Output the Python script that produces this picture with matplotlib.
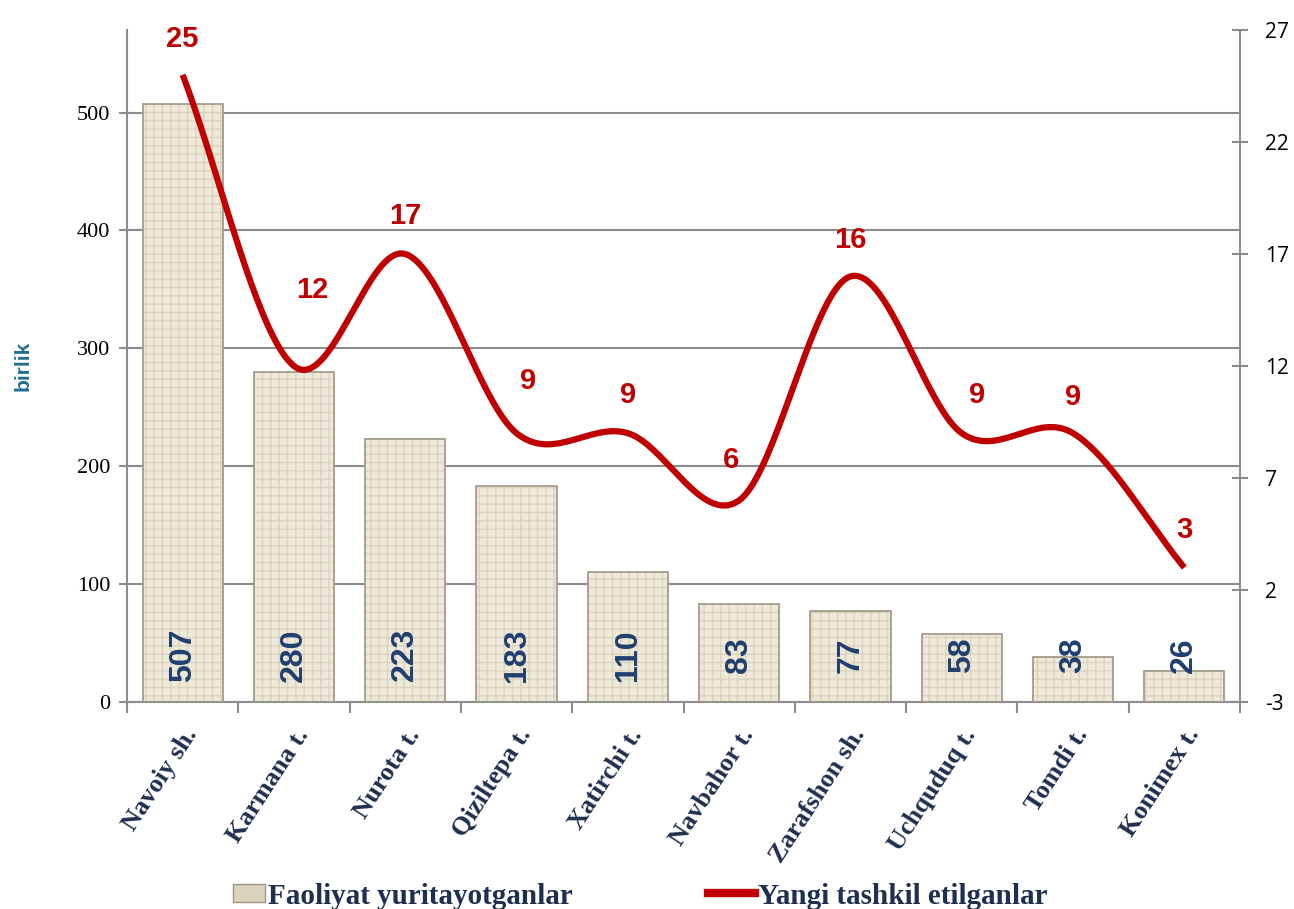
import numpy as np
import matplotlib
matplotlib.use("Agg")
import matplotlib.pyplot as plt
from matplotlib.patches import Patch
from matplotlib.lines import Line2D

categories = ["Navoiy sh.", "Karmana t.", "Nurota t.", "Qiziltepa t.", "Xatirchi t.",
              "Navbahor t.", "Zarafshon sh.", "Uchquduq t.", "Tomdi t.", "Konimex t."]
active = [507, 280, 223, 183, 110, 83, 77, 58, 38, 26]
new_created = [25, 12, 17, 9, 9, 6, 16, 9, 9, 3]
left_ticks = [0, 100, 200, 300, 400, 500]
right_ticks = [-3, 2, 7, 12, 17, 22, 27]
series_names = ["Faoliyat yuritayotganlar", "Yangi tashkil etilganlar"]

# label offsets for line labels (pixels)
label_offsets = [(0, 36), (18, 76), (0, 38), (12, 52), (0, 38), (-8, 40), (0, 36), (15, 38), (0, 36), (0, 38)]

NAVY = "#1F2F4F"
RED = "#C00000"
GRID = "#8C8C8C"

fig = plt.figure(figsize=(12.94, 9.09), dpi=100)
ax = fig.add_axes([127/1294, 1-702/909, (1240-127)/1294, (702-30)/909])
x = np.arange(len(categories))

# bars: textured beige
ax.bar(x, active, width=0.72, color="#EFE9DA", edgecolor="#DCD3BF", hatch="++", linewidth=0, zorder=2)
ax.bar(x, active, width=0.72, fill=False, edgecolor="#A39C8E", linewidth=1.3, zorder=3)

ax.set_xlim(-0.5, len(categories) - 0.5)
ax.set_ylim(0, 570)
ax.set_yticks(left_ticks)
ax.set_yticklabels([str(t) for t in left_ticks], fontfamily="Liberation Serif", fontsize=16, color="black")
ax.yaxis.grid(True, color=GRID, linewidth=1.5, zorder=0)
ax.set_axisbelow(True)
for s in ["top", "right"]:
    ax.spines[s].set_visible(False)
for s in ["left", "bottom"]:
    ax.spines[s].set_color(GRID)
    ax.spines[s].set_linewidth(1.5)
ax.tick_params(axis="y", direction="inout", length=12, width=1.5, color=GRID, pad=6)

ax.set_xticks(np.arange(-0.5, len(categories), 1.0), minor=False)
ax.set_xticklabels([])
ax.tick_params(axis="x", direction="out", length=8, width=1.5, color=GRID)
ax.set_xticks(x, minor=True)
ax.set_xticklabels(categories, minor=True, rotation=57, ha="right", va="top",
                   rotation_mode="anchor", fontfamily="Liberation Serif",
                   fontweight="bold", fontsize=19, color=NAVY)
ax.tick_params(axis="x", which="minor", length=0, pad=16)

for xi, v in zip(x, active):
    ax.text(xi, 40, str(v), rotation=90, ha="center", va="center",
            fontfamily="Liberation Sans", fontweight="bold", fontsize=23,
            color="#1F3F6F", zorder=5)

ax.set_ylabel("birlik", fontfamily="Liberation Sans", fontweight="bold",
              fontsize=15, color="#1F6E8C", labelpad=32)

# secondary axis
ax2 = ax.twinx()
ax2.set_ylim(-3, 27)
ax2.set_yticks(right_ticks)
ax2.set_yticklabels([str(t) for t in right_ticks], fontfamily="Open Sans", fontsize=15)
for s in ["top", "left", "bottom"]:
    ax2.spines[s].set_visible(False)
ax2.spines["right"].set_color(GRID)
ax2.spines["right"].set_linewidth(1.5)
ax2.tick_params(axis="y", direction="inout", length=12, width=1.5, color=GRID, pad=12)

# smooth line (Catmull-Rom through data points)
vals = np.array(new_created, dtype=float)
pts_x = x.astype(float)
ext_x = np.concatenate([[2*pts_x[0]-pts_x[1]], pts_x, [2*pts_x[-1]-pts_x[-2]]])
ext_y = np.concatenate([[2*vals[0]-vals[1]], vals, [2*vals[-1]-vals[-2]]])
sx, sy = [], []
t = np.linspace(0, 1, 40)
for i in range(1, len(ext_x)-2):
    p0, p1, p2, p3 = [np.array([ext_x[j], ext_y[j]]) for j in (i-1, i, i+1, i+2)]
    tt = t[:, None]
    seg = 0.5*((2*p1) + (-p0+p2)*tt + (2*p0-5*p1+4*p2-p3)*tt**2 + (-p0+3*p1-3*p2+p3)*tt**3)
    sx.extend(seg[:, 0]); sy.extend(seg[:, 1])
ax2.plot(sx, sy, color=RED, linewidth=4.5, solid_capstyle="butt", zorder=6)

for xi, v, (dx, dy) in zip(x, new_created, label_offsets):
    ax2.annotate(str(v), (xi, v), xytext=(dx*0.72, dy*0.72), textcoords="offset points",
                 ha="center", va="center", fontfamily="Liberation Sans",
                 fontweight="bold", fontsize=21, color=RED, zorder=7)

legprop = {"family": "Liberation Serif", "weight": "bold", "size": 21}
leg1 = fig.legend([Patch(facecolor="#DCD3BC", edgecolor="#9E978A")], [series_names[0]],
                  loc="center left", bbox_to_anchor=(233/1294, 1-896/909),
                  frameon=False, handlelength=1.1, handleheight=0.55, handletextpad=0.1,
                  borderpad=0, borderaxespad=0, prop=legprop)
leg2 = fig.legend([Line2D([0], [0], color=RED, linewidth=6)], [series_names[1]],
                  loc="center left", bbox_to_anchor=(708/1294, 1-896/909),
                  frameon=False, handlelength=1.6, handletextpad=0.1,
                  borderpad=0, borderaxespad=0, prop=legprop)
for lg in (leg1, leg2):
    for txt in lg.get_texts():
        txt.set_color(NAVY)

fig.savefig("out.png", dpi=100)
